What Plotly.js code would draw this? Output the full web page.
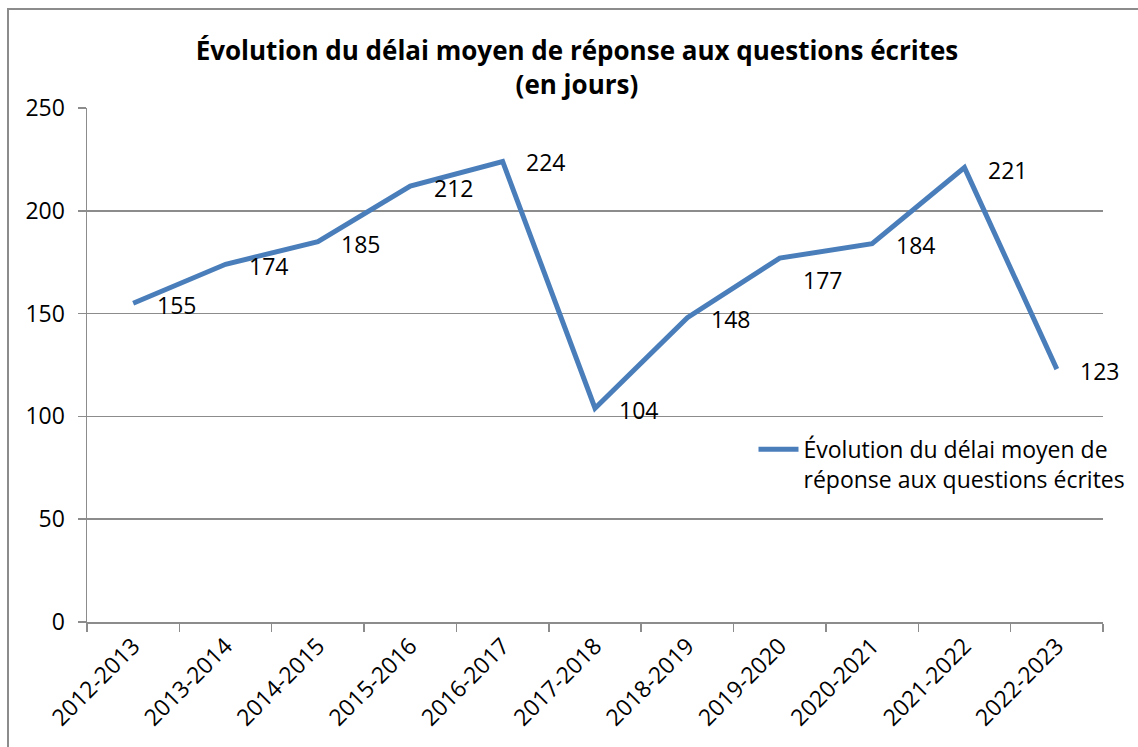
<!DOCTYPE html>
<html>
<head>
<meta charset="utf-8">
<script src="https://cdn.plot.ly/plotly-3.0.1.min.js"></script>
<style>
  html, body { margin: 0; padding: 0; background: #ffffff; }
  #chart { width: 1138px; height: 747px; }
</style>
</head>
<body>
<div id="chart"></div>
<script>
// ---- Data ----
const categories = ["2012-2013", "2013-2014", "2014-2015", "2015-2016", "2016-2017",
                    "2017-2018", "2018-2019", "2019-2020", "2020-2021", "2021-2022", "2022-2023"];
const delaiMoyen = [155, 174, 185, 212, 224, 104, 148, 177, 184, 221, 123];
const seriesName = "Évolution du délai moyen de<br>réponse aux questions écrites";
const chartTitle = "<b>Évolution du délai moyen de réponse aux questions écrites<br>(en jours)</b>";

// ---- Style ----
const FONT = "'Open Sans', 'Noto Sans', sans-serif";
const LINE_COLOR = "#4a7ebb";
const GRID_COLOR = "#8c8c8c";
const labelShiftY = [-2, -2, -2, -2, -1, -2, -1, -22, -1, -2, -2];

const trace = {
  type: "scatter",
  mode: "lines",
  x: categories,
  y: delaiMoyen,
  name: seriesName,
  line: { color: LINE_COLOR, width: 5 },
  hoverinfo: "x+y"
};

const annotations = categories.map((c, i) => ({
  x: c,
  y: delaiMoyen[i],
  xref: "x",
  yref: "y",
  text: String(delaiMoyen[i]),
  showarrow: false,
  xshift: 43,
  yshift: labelShiftY[i],
  font: { family: FONT, size: 23, color: "#000000" }
}));

const layout = {
  width: 1138,
  height: 747,
  paper_bgcolor: "#ffffff",
  plot_bgcolor: "#ffffff",
  margin: { l: 87, r: 35, t: 108, b: 125, autoexpand: false },
  font: { family: FONT, size: 23, color: "#000000" },
  title: {
    text: chartTitle,
    font: { family: FONT, size: 26, color: "#000000" },
    x: 0.507,
    xref: "container",
    xanchor: "center",
    y: 0.92,
    yref: "container",
    yanchor: "top"
  },
  xaxis: {
    type: "category",
    range: [-0.5, categories.length - 0.5],
    tickson: "boundaries",
    ticks: "outside",
    ticklen: 8,
    tickwidth: 1.5,
    tickcolor: GRID_COLOR,
    tickangle: -45,
    showline: true,
    linecolor: GRID_COLOR,
    linewidth: 1.5,
    showgrid: false,
    zeroline: false,
    automargin: false,
    tickfont: { family: FONT, size: 23, color: "#000000" }
  },
  yaxis: {
    range: [0, 250],
    dtick: 50,
    tick0: 0,
    ticks: "outside",
    ticklen: 8,
    tickwidth: 1.5,
    tickcolor: GRID_COLOR,
    showline: true,
    linecolor: GRID_COLOR,
    linewidth: 1.5,
    showgrid: true,
    gridcolor: GRID_COLOR,
    gridwidth: 1.5,
    zeroline: false,
    automargin: false,
    ticklabelstandoff: 8,
    tickfont: { family: FONT, size: 23, color: "#000000" }
  },
  showlegend: true,
  legend: {
    x: 0.656,
    xanchor: "left",
    y: 0.378,
    yanchor: "top",
    valign: "top",
    bgcolor: "rgba(255,255,255,0)",
    font: { family: FONT, size: 23, color: "#000000" },
    itemwidth: 40
  },
  annotations: annotations,
  shapes: [{
    type: "rect",
    xref: "paper",
    yref: "paper",
    x0: (8 - 87) / 1016,
    x1: 1.2,
    y0: -0.5,
    y1: (622 - 9) / 514,
    line: { color: "#8c8c8c", width: 2 },
    fillcolor: "rgba(0,0,0,0)",
    layer: "above"
  }]
};

Plotly.newPlot("chart", [trace], layout, { displayModeBar: false, staticPlot: true });
</script>
</body>
</html>
